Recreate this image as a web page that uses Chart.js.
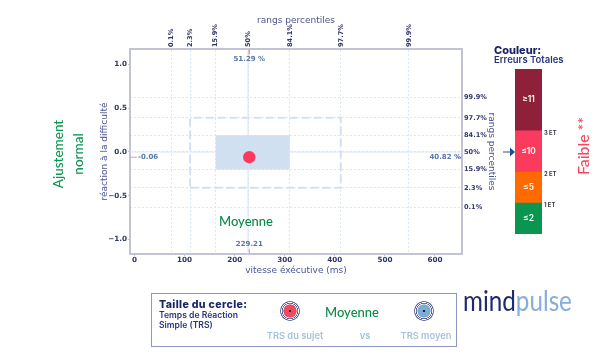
<!DOCTYPE html>
<html><head><meta charset="utf-8">
<script src="https://cdn.jsdelivr.net/npm/chart.js@4"></script>
<style>
html,body{margin:0;padding:0;background:#fff;width:613px;height:362px;overflow:hidden}
#stage{position:relative;width:613px;height:362px;filter:blur(0.35px)}
canvas{position:absolute}
.t{position:absolute;white-space:nowrap;line-height:1;font-family:Inter,sans-serif}
.c{transform:translate(-50%,-50%)}
.r{transform:translate(-50%,-50%) rotate(-90deg)}
.ring{position:absolute;width:20px;height:20px;border-radius:50%;transform:translate(-50%,-50%)}
</style></head><body>
<div id="stage">
<canvas id="main" width="613" height="362" style="left:0;top:0;width:613px;height:362px"></canvas>
<canvas id="scale" width="60" height="185" style="left:499px;top:59px;width:60px;height:185px"></canvas>

<div class="t r" style="left:58px;top:154px;font:500 13.5px Lato,sans-serif;color:#0c9650">Ajustement</div>
<div class="t r" style="left:78px;top:154px;font:500 13.5px Lato,sans-serif;color:#0c9650">normal</div>
<div class="t c" style="left:246px;top:221px;font:500 13px Lato,sans-serif;color:#0c8a48">Moyenne</div>

<div class="t" style="left:494px;top:43px;font:800 11px Inter,sans-serif;color:#1a2468">Couleur:</div>
<div class="t" style="left:494px;top:54px;font:600 9.5px Inter,sans-serif;color:#2a3578">Erreurs Totales</div>
<div class="t" style="left:544px;top:129px;font:700 5.8px Inter,sans-serif;color:#3a3a4a">3 ET</div>
<div class="t" style="left:544px;top:170px;font:700 5.8px Inter,sans-serif;color:#3a3a4a">2 ET</div>
<div class="t" style="left:544px;top:201px;font:700 5.8px Inter,sans-serif;color:#3a3a4a">1 ET</div>
<div class="t r" style="left:582px;top:146px;font:500 15.8px Lato,sans-serif;color:#f7455f">Faible **</div>
<svg style="position:absolute;left:503px;top:146px" width="13" height="12"><path d="M0 6H8" stroke="#34507e" stroke-width="1"/><path d="M7 1.5L12 6L7 10.5Z" fill="#1b4f9c"/></svg>

<div style="position:absolute;left:150.5px;top:292.5px;width:304px;height:52px;border:1.3px solid #8f95c6"></div>
<div class="t" style="left:159px;top:298px;font:800 10.6px Inter,sans-serif;letter-spacing:0.35px;color:#1a2468">Taille du cercle:</div>
<div class="t" style="left:159px;top:309.5px;font:600 8.6px Inter,sans-serif;color:#2a3578">Temps de Réaction</div>
<div class="t" style="left:159px;top:319.5px;font:600 8.6px Inter,sans-serif;color:#2a3578">Simple (TRS)</div>
<div class="ring" style="left:290px;top:311px;background:radial-gradient(circle,#222 0 0.7px,#ef4a60 1px 6.4px,#fff 6.8px 7.2px,#565f93 7.6px 8px,#fff 8.3px 8.6px,#565f93 9px 10px,transparent 10.2px)"></div>
<div class="ring" style="left:424px;top:311px;background:radial-gradient(circle,#222 0 0.7px,#7fabd8 1px 6.4px,#fff 6.8px 7.2px,#565f93 7.6px 8px,#fff 8.3px 8.6px,#565f93 9px 10px,transparent 10.2px)"></div>
<div class="t c" style="left:352px;top:312px;font:500 13px Lato,sans-serif;color:#0c8a48">Moyenne</div>
<div class="t c" style="left:295px;top:335px;font:600 9.3px Inter,sans-serif;color:#a6c2e0">TRS du sujet</div>
<div class="t c" style="left:365px;top:335px;font:600 9.3px Inter,sans-serif;color:#a6c2e0">vs</div>
<div class="t c" style="left:426px;top:335px;font:600 9.3px Inter,sans-serif;color:#a6c2e0">TRS moyen</div>

<div class="t" style="left:463px;top:283px;font:400 28.5px Lato,sans-serif;color:#1f2a6b;transform:scaleX(0.85);transform-origin:left center">mind<span style="color:#86aedb">pulse</span></div>
</div>
<script>
// Axis values
const xMin=-9, xMax=654, yMin=-1.166, yMax=1.177;
const xTicks=[0,100,200,300,400,500,600];
const yTicks=[-1,-0.5,0,0.5,1];
const percentileLabels=["0.1%","2.3%","15.9%","50%","84.1%","97.7%","99.9%"];
const percentileX=[73,111,162,226.7,310,412,548];
const percentileY=[-0.63,-0.41,-0.2,0,0.19,0.39,0.62];
// Subject
const subjectX=229.21, subjectY=-0.06;
const rankTop=51.29, rankRight=40.82;
// Colour scale
const bandLabels=["≤2","≤5","≤10","≥11"];
const bandSizes=[3,3,4,6];
const bandColors=["#0a964f","#ff6a00","#fb3b5e","#8f2039"];

const navy="#2f3568", titleCol="#4a5590", gridCol="#d9e7f6", frame="#c3c3d6", valCol="#5876a8", mark="#e89a9a";
const dj="'DejaVu Sans'";
const tickFont={family:dj,size:7.2,weight:"bold"};
const titleFont={family:dj,size:9};

function line(a,color,width,dash){return {type:"line",data:a,borderColor:color,borderWidth:width,borderDash:dash||[],pointRadius:0,fill:false,xAxisID:"x",yAxisID:"y",tension:0};}
const box=(x0,x1,y0,y1)=>[{x:x0,y:y0},{x:x1,y:y0},{x:x1,y:y1},{x:x0,y:y1},{x:x0,y:y0}];

const datasets=[
 {type:"scatter",data:[{x:subjectX,y:subjectY}],backgroundColor:"#fb3b5e",borderWidth:0,pointRadius:6.2,xAxisID:"x",yAxisID:"y"},
 line([{x:subjectX,y:yMax},{x:subjectX,y:yMax-0.06}],mark,1),
 line([{x:subjectX,y:yMin},{x:subjectX,y:yMin+0.06}],mark,1),
 line([{x:xMin,y:subjectY},{x:xMin+14,y:subjectY}],mark,1),
 line([{x:xMax,y:subjectY},{x:xMax-12,y:subjectY}],mark,1),
 line(box(percentileX[1],percentileX[5],percentileY[1],percentileY[5]),"#d3e1f0",2,[8,4]),
 Object.assign(line(box(percentileX[2],percentileX[4],percentileY[2],percentileY[4]),"rgba(0,0,0,0)",0),{fill:"shape",backgroundColor:"#d0e0f0"}),
 line([{x:percentileX[3],y:yMin},{x:percentileX[3],y:yMax}],"#dbe8f6",1.2),
 line([{x:xMin,y:percentileY[3]},{x:xMax,y:percentileY[3]}],"#dbe8f6",1.2)
];

const overlay={id:"overlay",afterDatasetsDraw(c){
  const g=c.ctx,X=c.scales.x,Y=c.scales.y,a=c.chartArea;
  g.save();g.fillStyle=valCol;g.font="bold 7px "+dj;g.textBaseline="middle";
  g.textAlign="center";
  g.fillText(rankTop.toFixed(2)+" %",X.getPixelForValue(subjectX),a.top+10);
  g.fillText(subjectX.toFixed(2),X.getPixelForValue(subjectX),a.bottom-10);
  g.textAlign="left";
  g.fillText(subjectY.toFixed(2),a.left+8,Y.getPixelForValue(subjectY));
  g.textAlign="right";
  g.fillText(rankRight.toFixed(2)+" %",a.right-1,Y.getPixelForValue(subjectY));
  g.restore();
}};

const axisTicksOnly={display:true,drawOnChartArea:false,drawTicks:true,tickLength:2,tickColor:frame,color:frame};

new Chart(document.getElementById("main"),{
 type:"scatter",data:{datasets},plugins:[overlay],
 options:{responsive:false,animation:false,events:[],
  layout:{padding:{left:99,right:116,top:15,bottom:86}},
  plugins:{legend:{display:false},tooltip:{enabled:false},title:{display:false}},
  scales:{
   x:{type:"linear",position:"bottom",min:xMin,max:xMax,
      afterBuildTicks:s=>{s.ticks=xTicks.map(v=>({value:v}))},
      afterFit:s=>{s.height=22},
      grid:axisTicksOnly,
      border:{display:true,color:frame,width:2},
      ticks:{autoSkip:false,font:tickFont,color:navy,padding:0,maxRotation:0,callback:v=>String(v)},
      title:{display:true,text:"vitesse éxécutive (ms)",font:titleFont,color:titleCol,padding:0}},
   y:{type:"linear",position:"left",min:yMin,max:yMax,
      afterBuildTicks:s=>{s.ticks=yTicks.map(v=>({value:v}))},
      afterFit:s=>{s.width=31},
      grid:axisTicksOnly,
      border:{display:true,color:frame,width:2},
      ticks:{autoSkip:false,font:tickFont,color:navy,padding:1,callback:v=>v.toFixed(1).replace("-","−")},
      title:{display:true,text:"réaction à la difficulté",font:titleFont,color:titleCol,padding:0}},
   x2:{type:"linear",position:"top",min:xMin,max:xMax,
      afterBuildTicks:s=>{s.ticks=percentileX.map(v=>({value:v}))},
      afterFit:s=>{s.height=34},
      grid:{display:true,color:gridCol,lineWidth:1,drawTicks:false},
      border:{display:true,color:frame,width:2,dash:[2,2]},
      ticks:{autoSkip:false,font:{family:dj,size:6.6,weight:"bold"},color:navy,padding:2,minRotation:90,maxRotation:90,labelOffset:8,
             callback:v=>percentileLabels[percentileX.indexOf(v)]},
      title:{display:true,text:"rangs percentiles",font:titleFont,color:titleCol,padding:0}},
   y2:{type:"linear",position:"right",min:yMin,max:yMax,
      afterBuildTicks:s=>{s.ticks=percentileY.map(v=>({value:v}))},
      afterFit:s=>{s.width=35},
      grid:{display:true,color:gridCol,lineWidth:1,drawTicks:false},
      border:{display:true,color:frame,width:2,dash:[2,2]},
      ticks:{autoSkip:false,font:{family:dj,size:6.6,weight:"bold"},color:navy,padding:2,
             callback:v=>percentileLabels[percentileY.indexOf(v)]},
      title:{display:true,text:"rangs percentiles",font:titleFont,color:titleCol,padding:0}}
  }}
});

const bandLabelPlugin={id:"bandLabels",afterDatasetsDraw(c){
  const g=c.ctx;g.save();g.fillStyle="#fff";g.font="600 8.4px Inter,sans-serif";g.textAlign="center";g.textBaseline="middle";
  c.data.datasets.forEach((d,i)=>{const b=c.getDatasetMeta(i).data[0];g.fillText(bandLabels[i],b.x,(b.base+b.y)/2);});
  g.restore();
}};
new Chart(document.getElementById("scale"),{
 type:"bar",plugins:[bandLabelPlugin],
 data:{labels:["Erreurs"],datasets:bandSizes.map((v,i)=>({label:bandLabels[i],data:[v],backgroundColor:bandColors[i],barPercentage:1,categoryPercentage:1}))},
 options:{responsive:false,animation:false,events:[],
  layout:{padding:{left:16,right:17,top:10,bottom:10}},
  plugins:{legend:{display:false},tooltip:{enabled:false}},
  scales:{x:{stacked:true,display:false},y:{stacked:true,display:false,min:0,max:16}}}
});
</script>
</body></html>
